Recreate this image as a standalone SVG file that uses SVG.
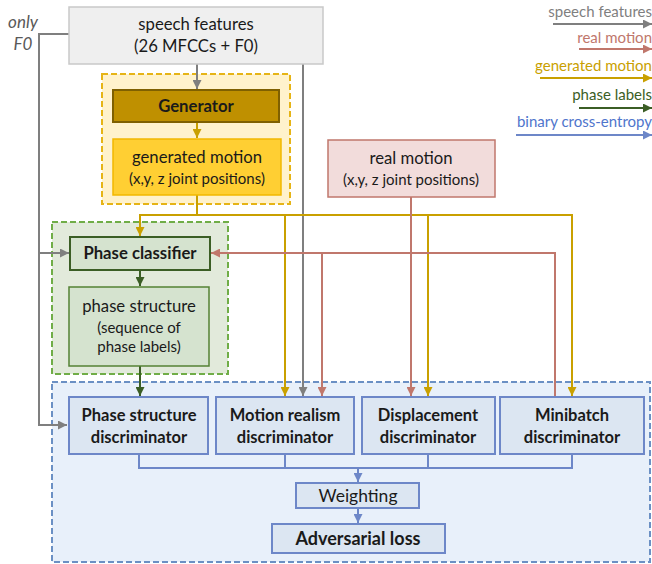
<svg xmlns="http://www.w3.org/2000/svg" width="652" height="564" viewBox="0 0 652 564">
<defs>
<style>
text{font-family:Lato,"Liberation Sans",sans-serif;fill:#1a1a1a;text-anchor:middle}
.b{font-weight:bold}
.m{font-size:16.7px}
.s{font-size:15px}
.d{font-size:16.5px;font-weight:bold}
.ln{fill:none;stroke-width:2}
.g{stroke:#7f7f7f}.r{stroke:#c0776c}.y{stroke:#c9a000}.gr{stroke:#3b5e25}.bl{stroke:#6d87c8}
.disc{fill:#dce6f2;stroke:#6d87c8;stroke-width:2}
.leg{font-size:15px;text-anchor:end}
</style>
<marker id="ag" viewBox="0 0 10 10" refX="10" refY="5" markerWidth="9" markerHeight="9" markerUnits="userSpaceOnUse" orient="auto"><path d="M0,0L10,5L0,10z" fill="#7f7f7f"/></marker>
<marker id="ar" viewBox="0 0 10 10" refX="10" refY="5" markerWidth="9" markerHeight="9" markerUnits="userSpaceOnUse" orient="auto"><path d="M0,0L10,5L0,10z" fill="#c0776c"/></marker>
<marker id="ay" viewBox="0 0 10 10" refX="10" refY="5" markerWidth="9" markerHeight="9" markerUnits="userSpaceOnUse" orient="auto"><path d="M0,0L10,5L0,10z" fill="#c9a000"/></marker>
<marker id="agr" viewBox="0 0 10 10" refX="10" refY="5" markerWidth="9" markerHeight="9" markerUnits="userSpaceOnUse" orient="auto"><path d="M0,0L10,5L0,10z" fill="#3b5e25"/></marker>
<marker id="abl" viewBox="0 0 10 10" refX="10" refY="5" markerWidth="9" markerHeight="9" markerUnits="userSpaceOnUse" orient="auto"><path d="M0,0L10,5L0,10z" fill="#6d87c8"/></marker>
</defs>
<rect width="652" height="564" fill="#ffffff"/>

<g id="containers">
<rect x="102" y="74" width="188" height="130" fill="#fff2cc" stroke="#e6b416" stroke-width="2" stroke-dasharray="6,3"/>
<rect x="52" y="222" width="176" height="152" fill="#e2eadb" stroke="#70ad47" stroke-width="2" stroke-dasharray="6,3"/>
<rect x="52" y="382" width="598" height="180" fill="#e8f0fa" stroke="#6b90c4" stroke-width="2" stroke-dasharray="6,3"/>
</g>

<g id="connectors">
<path class="ln g" d="M69,34H39V425H67" marker-end="url(#ag)"/>
<path class="ln g" d="M39,253H69" marker-end="url(#ag)"/>
<path class="ln g" d="M197,64V89" marker-end="url(#ag)"/>
<path class="ln g" d="M303,64V396" marker-end="url(#ag)"/>
<path class="ln y" d="M197,122V138" marker-end="url(#ay)"/>
<path class="ln y" d="M197,195V215H572V396" marker-end="url(#ay)"/>
<path class="ln y" d="M197,215H140V236" marker-end="url(#ay)"/>
<path class="ln y" d="M285,215V396" marker-end="url(#ay)"/>
<path class="ln y" d="M428,215V396" marker-end="url(#ay)"/>
<path class="ln r" d="M411,197V396" marker-end="url(#ar)"/>
<path class="ln r" d="M555,396V253H211" marker-end="url(#ar)"/>
<path class="ln r" d="M322,253V396" marker-end="url(#ar)"/>
<path class="ln gr" d="M140,270V286" marker-end="url(#agr)"/>
<path class="ln gr" d="M140,366V396" marker-end="url(#agr)"/>
<path class="ln bl" d="M139,454V468H572V454M285,454V468M428,454V468"/>
<path class="ln bl" d="M358,468V482" marker-end="url(#abl)"/>
<path class="ln bl" d="M358,508V523" marker-end="url(#abl)"/>
</g>

<g id="speech-features">
<rect x="69" y="7" width="254" height="57" fill="#efefef" stroke="#c9c9c9" stroke-width="1.5"/>
<text class="m" x="196" y="30">speech features</text>
<text class="m" x="196" y="52">(26 MFCCs + F0)</text>
</g>
<g id="only-f0">
<text x="23" y="28" style="font-size:17px;font-style:italic;fill:#595959">only</text>
<text x="23" y="50" style="font-size:17px;font-style:italic;fill:#595959">F0</text>
</g>
<g id="generator">
<rect x="113" y="90" width="166" height="32" fill="#bf9000" stroke="#7f6000" stroke-width="2"/>
<text class="m b" x="196" y="112">Generator</text>
</g>
<g id="generated-motion">
<rect x="113" y="139" width="168" height="56" fill="#ffcf33" stroke="#f2b800" stroke-width="1.5"/>
<text class="m" x="197" y="163">generated motion</text>
<text class="s" x="197" y="184">(x,y, z joint positions)</text>
</g>
<g id="real-motion">
<rect x="328" y="140" width="167" height="57" fill="#f2dcdb" stroke="#c0776c" stroke-width="1.5"/>
<text class="m" x="411" y="164">real motion</text>
<text class="s" x="411" y="185">(x,y, z joint positions)</text>
</g>
<g id="phase-classifier">
<rect x="70" y="237" width="140" height="33" fill="#d5e3cf" stroke="#3b5e25" stroke-width="2"/>
<text class="m b" x="140" y="259">Phase classifier</text>
</g>
<g id="phase-structure">
<rect x="69" y="287" width="140" height="79" fill="#d5e3cf" stroke="#548235" stroke-width="1.5"/>
<text class="m" x="139" y="312">phase structure</text>
<text class="s" x="139" y="333">(sequence of</text>
<text class="s" x="139" y="352">phase labels)</text>
</g>
<g id="phase-structure-discriminator">
<rect class="disc" x="69" y="397" width="139" height="57"/>
<text class="d" x="139" y="421">Phase structure</text>
<text class="d" x="139" y="443">discriminator</text>
</g>
<g id="motion-realism-discriminator">
<rect class="disc" x="216" y="397" width="138" height="57"/>
<text class="d" x="285" y="421">Motion realism</text>
<text class="d" x="285" y="443">discriminator</text>
</g>
<g id="displacement-discriminator">
<rect class="disc" x="362" y="397" width="133" height="57"/>
<text class="d" x="428" y="421">Displacement</text>
<text class="d" x="428" y="443">discriminator</text>
</g>
<g id="minibatch-discriminator">
<rect class="disc" x="500" y="397" width="144" height="57"/>
<text class="d" x="572" y="421">Minibatch</text>
<text class="d" x="572" y="443">discriminator</text>
</g>
<g id="weighting">
<rect class="disc" x="296" y="483" width="123" height="25"/>
<text x="358" y="502" style="font-size:17.5px">Weighting</text>
</g>
<g id="adversarial-loss">
<rect class="disc" x="272" y="524" width="173" height="29"/>
<text class="b" x="358" y="545" style="font-size:18px">Adversarial loss</text>
</g>

<g id="legend">
<text class="leg" x="652" y="17" style="fill:#7f7f7f">speech features</text>
<path class="ln g" d="M553,24H652" marker-end="url(#ag)"/>
<text class="leg" x="652" y="43" style="fill:#c0776c">real motion</text>
<path class="ln r" d="M579,49H652" marker-end="url(#ar)"/>
<text class="leg" x="652" y="71" style="fill:#c9a000">generated motion</text>
<path class="ln y" d="M540,78H652" marker-end="url(#ay)"/>
<text class="leg" x="652" y="100" style="fill:#3b5e25">phase labels</text>
<path class="ln gr" d="M579,108H652" marker-end="url(#agr)"/>
<text class="leg" x="652" y="127" style="fill:#4f75cc">binary cross-entropy</text>
<path class="ln bl" d="M516,135H652" marker-end="url(#abl)"/>
</g>
</svg>
